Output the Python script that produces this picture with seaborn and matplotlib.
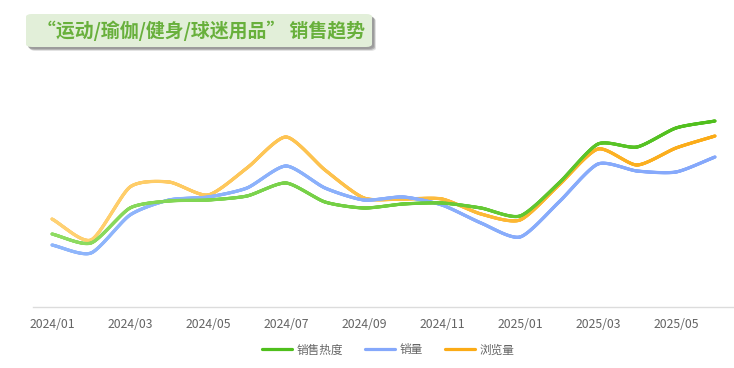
import numpy as np
import pandas as pd
import seaborn as sns
import matplotlib
matplotlib.use("Agg")
import matplotlib.pyplot as plt
from matplotlib.collections import LineCollection
from matplotlib.colors import LinearSegmentedColormap
from matplotlib.patches import FancyBboxPatch
from matplotlib.lines import Line2D

# ---------------- data ----------------
months = ["2024/01", "2024/02", "2024/03", "2024/04", "2024/05", "2024/06",
          "2024/07", "2024/08", "2024/09", "2024/10", "2024/11", "2024/12",
          "2025/01", "2025/02", "2025/03", "2025/04", "2025/05", "2025/06"]
heat = [73, 64, 99, 106, 107, 111, 124, 105, 99, 103, 104, 99, 91, 124, 163, 160, 179, 186]
sales = [62, 54, 92, 107, 110, 119, 141, 119, 107, 110, 102, 84, 70, 105, 143, 136, 135, 150]
views = [88, 67, 120, 125, 112, 139, 170, 137, 109, 108, 108, 93, 87, 122, 158, 142, 159, 171]
series_names = ["销售热度", "销量", "浏览量"]
title = "“运动/瑜伽/健身/球迷用品” 销售趋势"

grad = {
    "销售热度": ("#8fdc62", "#4fbf1c"),
    "销量": ("#8fb6fb", "#85a8fb"),
    "浏览量": ("#ffd274", "#fbab16"),
}

sns.set_theme(style="white")
plt.rcParams["font.family"] = ["Noto Sans CJK SC", "DejaVu Sans"]


def smooth(xs, ys, n=40):
    xs = np.asarray(xs, float)
    ys = np.asarray(ys, float)
    m = len(xs)
    tx = np.zeros(m)
    ty = np.zeros(m)
    for i in range(m):
        a = max(i - 1, 0)
        b = min(i + 1, m - 1)
        k = 0.5 if 0 < i < m - 1 else 1.0
        tx[i] = (xs[b] - xs[a]) * k * 0.7
        ty[i] = (ys[b] - ys[a]) * k * 0.7
    ox, oy = [], []
    for i in range(m - 1):
        t = np.linspace(0, 1, n, endpoint=(i == m - 2))
        h00 = 2 * t**3 - 3 * t**2 + 1
        h10 = t**3 - 2 * t**2 + t
        h01 = -2 * t**3 + 3 * t**2
        h11 = t**3 - t**2
        ox.append(h00 * xs[i] + h10 * tx[i] + h01 * xs[i + 1] + h11 * tx[i + 1])
        oy.append(h00 * ys[i] + h10 * ty[i] + h01 * ys[i + 1] + h11 * ty[i + 1])
    return np.concatenate(ox), np.concatenate(oy)


xi = np.arange(len(months))
frames = []
for name, vals in zip(series_names, [heat, sales, views]):
    sx, sy = smooth(xi, vals)
    frames.append(pd.DataFrame({"x": sx, "y": sy, "series": name, "o": np.arange(len(sx))}))
df = pd.concat(frames, ignore_index=True)

fig = plt.figure(figsize=(7.34, 3.68), dpi=100)
fig.patch.set_facecolor("white")
ax = fig.add_axes([32.5 / 734, 61 / 368, 702 / 734, 247 / 368])

palette = {k: v[1] for k, v in grad.items()}
sns.lineplot(data=df, x="x", y="y", hue="series", palette=palette, sort=False,
             estimator=None, units="series", legend=False, linewidth=2.1, ax=ax,
             hue_order=["浏览量", "销量", "销售热度"])

# gradient overlay along each line
order = ["浏览量", "销量", "销售热度"]
for z, name in enumerate(order):
    d = df[df["series"] == name]
    pts = np.column_stack([d["x"].values, d["y"].values]).reshape(-1, 1, 2)
    segs = np.concatenate([pts[:-1], pts[1:]], axis=1)
    cmap = LinearSegmentedColormap.from_list(name, grad[name])
    lc = LineCollection(segs, cmap=cmap, linewidth=2.3, capstyle="round",
                        joinstyle="round", zorder=3 + z)
    lc.set_array((d["x"].values[:-1] - xi[0]) / (xi[-1] - xi[0]))
    lc.set_clim(0, 1)
    ax.add_collection(lc)

ax.set_xlim(-0.5, len(months) - 0.5)
ax.set_ylim(0, 247)
ax.set_xticks(xi[::2])
ax.set_xticklabels(months[::2])
ax.set_yticks([])
ax.set_xlabel("")
ax.set_ylabel("")
for s in ["top", "right", "left"]:
    ax.spines[s].set_visible(False)
ax.spines["bottom"].set_color("#dcdcdc")
ax.spines["bottom"].set_linewidth(1)
ax.tick_params(axis="x", length=0, pad=8, labelsize=8.8, labelcolor="#646464")
ax.set_facecolor("white")

# legend
handles = [Line2D([0], [0], color=grad[n][1], lw=2.3) for n in series_names]
fig.legend(handles, series_names, loc="center", bbox_to_anchor=(388 / 734, 1 - 350 / 368),
           ncol=3, frameon=False, fontsize=8.4, handlelength=2.6, handletextpad=0.35,
           columnspacing=1.9, labelcolor="#646464")

# title box with shadow
bx, by, bw, bh = 26, 14, 346, 33
for k, a in [(4, 0.25), (3, 0.5), (2, 0.6)]:
    fig.patches.append(FancyBboxPatch(((bx + k) / 734, 1 - (by + bh + k) / 368), bw / 734, bh / 368,
                                      boxstyle="round,pad=0,rounding_size=0.008",
                                      transform=fig.transFigure, facecolor="#8c8c8c",
                                      edgecolor="none", alpha=a, zorder=1))
fig.patches.append(FancyBboxPatch((bx / 734, 1 - (by + bh) / 368), bw / 734, bh / 368,
                                  boxstyle="round,pad=0,rounding_size=0.008",
                                  transform=fig.transFigure, facecolor="#e2efd9",
                                  edgecolor="none", zorder=2))
fig.text(37 / 734, 1 - 31 / 368, title, ha="left", va="center", fontsize=13.6,
         fontweight="bold", color="#68b03c", zorder=3)

fig.savefig("out.png", dpi=100, facecolor="white")
